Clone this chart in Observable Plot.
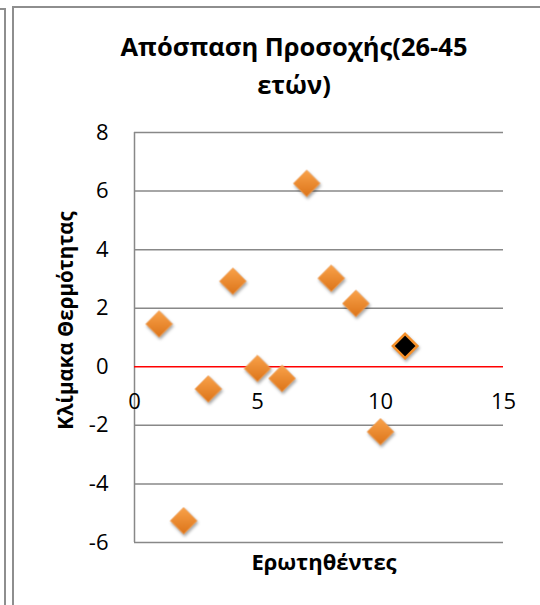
<!DOCTYPE html>
<html><head><meta charset="utf-8">
<script src="https://cdn.jsdelivr.net/npm/d3@7"></script>
<script src="https://cdn.jsdelivr.net/npm/@observablehq/plot@0.6"></script>
<style>
body{margin:0;background:#fff;}
#wrap{position:relative;width:540px;height:605px;overflow:hidden;background:#fff;}
#wrap svg{position:absolute;left:0;top:0;}
.b{position:absolute;background:#8e8e8e;}
.pt{filter:drop-shadow(1px 2px 1.5px rgba(0,0,0,0.35));}
</style></head><body><div id="wrap"></div>
<script>
const respondents = [1, 2, 3, 4, 5, 6, 7, 8, 9, 10];
const scores = [1.46, -5.26, -0.76, 2.92, -0.06, -0.40, 6.26, 3.02, 2.16, -2.22];
const highlightRespondent = [11];
const highlightScore = [0.71];
const yTicks = [-6, -4, -2, 0, 2, 4, 6, 8];
const xTicks = [0, 5, 10, 15];
const title = "Απόσπαση Προσοχής(26-45\nετών)";
const xLabel = "Ερωτηθέντες";
const yLabel = "Κλίμακα Θερμότητας";

const points = respondents.map((x, i) => ({x, y: scores[i]}));
const highlight = highlightRespondent.map((x, i) => ({x, y: highlightScore[i]}));
const font = "'Open Sans', 'Noto Sans', sans-serif";

const chart = Plot.plot({
  width: 540,
  height: 605,
  marginLeft: 134,
  marginRight: 37,
  marginTop: 132,
  marginBottom: 63,
  style: {fontFamily: font, color: "#000", background: "transparent"},
  x: {domain: [0, 15]},
  y: {domain: [-6, 8]},
  marks: [
    Plot.ruleY(yTicks.filter(d => d !== 0), {stroke: "#888", strokeWidth: 1.5}),
    Plot.ruleX([0], {y1: -6, y2: 8, stroke: "#888", strokeWidth: 1.5}),
    Plot.ruleY([0], {stroke: "#ff0000", strokeWidth: 1.5}),
    Plot.axisY({ticks: yTicks, tickSize: 0, tickPadding: 26, fontSize: 22, label: null, tickFormat: d => String(d)}),
    Plot.axisX({ticks: [], label: null, tickSize: 0}),
    Plot.text(xTicks, {x: d => d, y: 0, text: d => String(d), dy: 35, fontSize: 22, fill: "#000"}),
    Plot.dot(points, {x: "x", y: "y", symbol: "diamond2", r: 12, fill: "url(#og)", stroke: "#f2a560", strokeWidth: 1, className: "pt"}),
    Plot.dot(highlight, {x: "x", y: "y", symbol: "diamond2", r: 11, fill: "#000", stroke: "#f5902a", strokeWidth: 2.5, className: "pt"}),
    Plot.text([title], {frameAnchor: "top", lineAnchor: "top", dx: -25, dy: -103, fontSize: 25.5, fontWeight: "bold", lineHeight: 1.48, fill: "#000"}),
    Plot.text([xLabel], {frameAnchor: "bottom", lineAnchor: "middle", dx: 5, dy: 20, fontSize: 22, fontWeight: "bold", fill: "#000"}),
    Plot.text([yLabel], {frameAnchor: "left", textAnchor: "middle", lineAnchor: "middle", rotate: -90, dx: -68, dy: -17, fontSize: 20.5, fontWeight: "bold", fill: "#000"})
  ]
});

const ns = "http://www.w3.org/2000/svg";
const defs = document.createElementNS(ns, "defs");
defs.innerHTML = '<linearGradient id="og" x1="0" y1="0" x2="0" y2="1"><stop offset="0" stop-color="#f9a24a"/><stop offset="1" stop-color="#dc7419"/></linearGradient>';
chart.insertBefore(defs, chart.firstChild);

const wrap = document.getElementById("wrap");
wrap.appendChild(chart);
function line(l, t, w, h) {
  const d = document.createElement("div");
  d.className = "b";
  d.style.left = l + "px"; d.style.top = t + "px"; d.style.width = w + "px"; d.style.height = h + "px";
  wrap.appendChild(d);
}
line(4, 8, 2, 597);
line(0, 8, 6, 2);
line(12, 6, 2, 599);
line(12, 6, 528, 2);
</script>
</body></html>
